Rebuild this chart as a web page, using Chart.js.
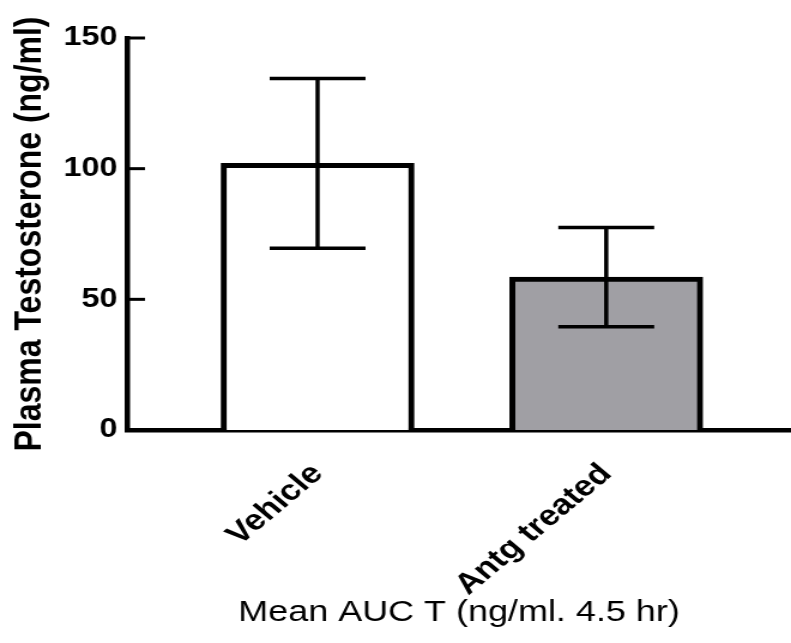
<!DOCTYPE html>
<html>
<head>
<meta charset="utf-8">
<script src="https://cdn.jsdelivr.net/npm/chart.js@4"></script>
<style>
  body { margin: 0; background: #fff; }
</style>
</head>
<body>
<!-- o canvas e desenhado mais estreito e esticado na horizontal -->
<canvas id="grafico" width="660" height="643" style="width:791px;height:643px"></canvas>
<script>
// grupos e valores (media e desvio)
const grupos = ["Vehicle", "Antg treated"];
const medias = [102, 58.5];
const erros = [32.5, 19];
const coresBarras = ["#ffffff", "#a09fa4"];
const ticksY = [0, 50, 100, 150];

const fonte = "'Liberation Sans', Arial, Helvetica, sans-serif";

// barras de erro com traco horizontal em cima e embaixo
const barrasErro = {
  id: "barrasErro",
  afterDatasetsDraw(chart) {
    const ctx = chart.ctx;
    const y = chart.scales.y;
    const meta = chart.getDatasetMeta(0);
    ctx.save();
    ctx.strokeStyle = "#000";
    ctx.lineWidth = 3.5;
    meta.data.forEach((bar, i) => {
      const topo = y.getPixelForValue(medias[i] + erros[i]);
      const base = y.getPixelForValue(medias[i] - erros[i]);
      ctx.beginPath();
      ctx.moveTo(bar.x, topo);
      ctx.lineTo(bar.x, base);
      ctx.moveTo(bar.x - 40, topo);
      ctx.lineTo(bar.x + 40, topo);
      ctx.moveTo(bar.x - 40, base);
      ctx.lineTo(bar.x + 40, base);
      ctx.stroke();
    });
    ctx.restore();
  }
};

// tracinhos do eixo y virados pra dentro
const ticksDentro = {
  id: "ticksDentro",
  afterDraw(chart) {
    const ctx = chart.ctx;
    const y = chart.scales.y;
    const esq = chart.chartArea.left;
    ctx.save();
    ctx.strokeStyle = "#000";
    ctx.lineWidth = 3;
    y.ticks.forEach(t => {
      if (t.value === 0) return;
      const py = y.getPixelForValue(t.value);
      ctx.beginPath();
      ctx.moveTo(esq, py);
      ctx.lineTo(esq + 15, py);
      ctx.stroke();
    });
    ctx.restore();
  }
};

new Chart(document.getElementById("grafico"), {
  type: "bar",
  data: {
    datasets: [{
      data: grupos.map((g, i) => ({ x: i + 1, y: medias[i] })),
      backgroundColor: coresBarras,
      borderColor: "#000",
      borderWidth: 5,
      barThickness: 161
    }]
  },
  options: {
    responsive: false,
    animation: false,
    devicePixelRatio: 1,
    layout: { padding: { top: 38, right: 0, bottom: 0, left: 0 } },
    plugins: {
      legend: { display: false },
      tooltip: { enabled: false }
    },
    scales: {
      x: {
        type: "linear",
        offset: false,
        min: 0.34,
        max: 2.64,
        afterBuildTicks: s => { s.ticks = grupos.map((g, i) => ({ value: i + 1 })); },
        afterFit: s => { s.height = 213; },
        grid: { display: false },
        border: { color: "#000", width: 4.5 },
        ticks: {
          autoSkip: false,
          minRotation: 45,
          maxRotation: 45,
          padding: 19,
          color: "#000",
          font: { family: fonte, size: 29, weight: "bold" },
          callback: v => grupos[v - 1]
        },
        title: {
          display: true,
          text: "Mean AUC T (ng/ml. 4.5 hr)",
          color: "#000",
          font: { family: fonte, size: 30 },
          padding: { top: 0, bottom: 12 }
        }
      },
      y: {
        min: 0,
        max: 150,
        afterBuildTicks: s => { s.ticks = ticksY.map(v => ({ value: v })); },
        afterFit: s => { s.width = 106; },
        grid: { display: false, drawTicks: false },
        border: { color: "#000", width: 4.5 },
        ticks: {
          padding: 8,
          color: "#000",
          font: { family: fonte, size: 27, weight: "bold" }
        },
        title: {
          display: true,
          text: "Plasma Testosterone (ng/ml)",
          color: "#000",
          font: { family: fonte, size: 32, weight: "bold" },
          padding: { top: 6, bottom: 0 }
        }
      }
    }
  },
  plugins: [barrasErro, ticksDentro]
});
</script>
</body>
</html>
